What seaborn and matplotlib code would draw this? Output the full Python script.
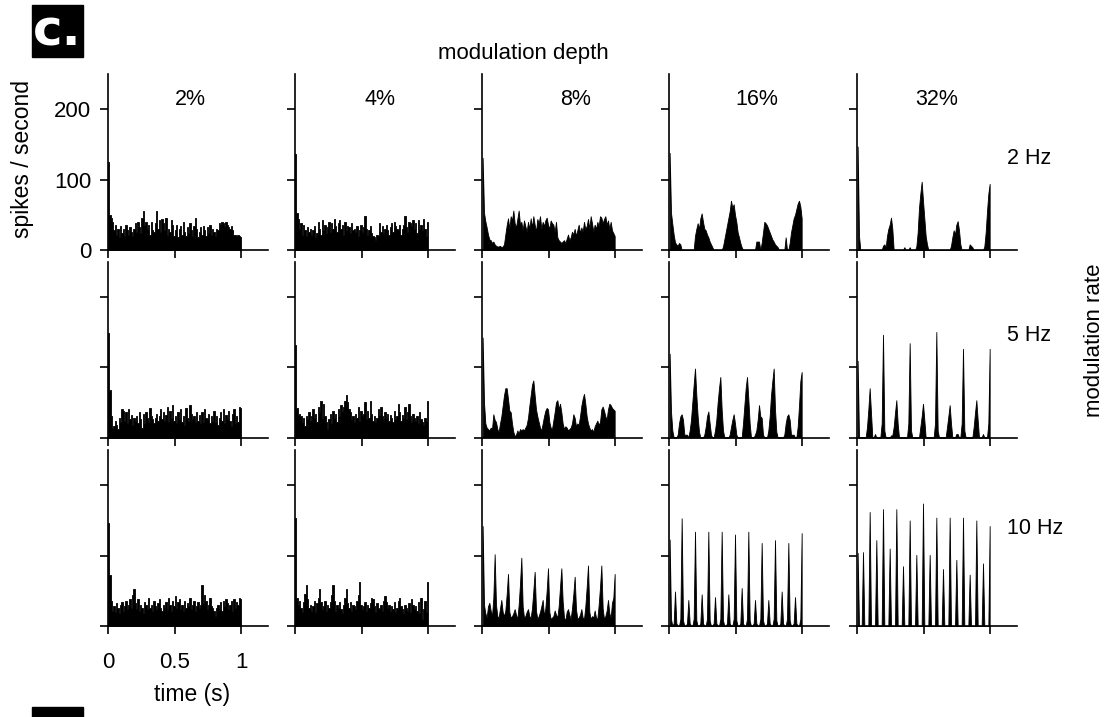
import numpy as np
import pandas as pd
import matplotlib
matplotlib.use("Agg")
import matplotlib.pyplot as plt
import seaborn as sns
from matplotlib.patches import Rectangle

# ---------------- data (spikes / second, 10 ms bins, 0..1 s) ----------------
depths = ["2%", "4%", "8%", "16%", "32%"]
rates = ["2 Hz", "5 Hz", "10 Hz"]
x_ticks = [0, 0.5, 1]
x_ticklabels = ["0", "0.5", "1"]
y_ticks = [0, 100, 200]
y_ticklabels = ["0", "100", "200"]

r2_d2 = [125, 50, 46, 40, 28, 35, 22, 30, 18, 34,
         24, 30, 20, 36, 28, 22, 33, 26, 20, 30,
         38, 26, 40, 32, 24, 45, 56, 35, 40, 30,
         36, 22, 40, 28, 26, 38, 56, 30, 42, 25,
         44, 38, 28, 45, 22, 30, 26, 42, 35, 20,
         28, 36, 18, 30, 34, 22, 40, 26, 20, 32,
         24, 38, 28, 20, 34, 45, 30, 18, 26, 32,
         22, 34, 28, 20, 32, 24, 36, 22, 30, 26,
         20, 30, 28, 38, 36, 40, 38, 34, 40, 36,
         32, 30, 34, 28, 22, 22, 20, 22, 20, 18]
r2_d4 = [137, 52, 44, 30, 38, 22, 36, 28, 20, 32,
         26, 30, 22, 28, 34, 18, 24, 40, 30, 22,
         42, 28, 36, 24, 32, 40, 26, 38, 30, 44,
         34, 26, 38, 42, 30, 36, 22, 40, 28, 34,
         32, 24, 38, 28, 30, 26, 34, 20, 28, 36,
         26, 32, 48, 30, 22, 28, 34, 24, 20, 18,
         14, 22, 20, 38, 26, 34, 24, 30, 36, 28,
         22, 32, 38, 26, 40, 34, 30, 28, 36, 22,
         30, 36, 48, 32, 26, 40, 38, 34, 42, 30,
         38, 24, 42, 30, 36, 28, 44, 30, 20, 40]
r2_d8 = [131, 53, 41, 32, 22, 15, 14, 10, 12, 8,
         6, 5, 5, 6, 4, 5, 8, 22, 35, 45,
         30, 48, 42, 56, 38, 32, 44, 56, 36, 40,
         28, 42, 34, 26, 40, 30, 45, 32, 48, 36,
         26, 44, 38, 48, 30, 40, 34, 42, 46, 36,
         30, 42, 38, 36, 26, 40, 18, 14, 12, 10,
         12, 14, 10, 16, 22, 14, 18, 26, 22, 30,
         20, 28, 36, 24, 32, 26, 40, 30, 34, 44,
         30, 48, 38, 26, 36, 30, 40, 34, 48, 46,
         38, 44, 48, 36, 42, 30, 40, 28, 24, 20]
r2_d16 = [138, 53, 37, 22, 11, 8, 6, 10, 8, 0,
          0, 0, 0, 0, 0, 0, 0, 0, 0, 20,
          30, 38, 30, 45, 52, 40, 30, 28, 22, 18,
          12, 8, 4, 0, 0, 0, 0, 0, 0, 0,
          5, 15, 25, 35, 45, 55, 70, 60, 65, 50,
          40, 25, 18, 10, 4, 0, 0, 0, 0, 0,
          0, 0, 0, 0, 0, 12, 12, 12, 0, 10,
          25, 40, 38, 35, 30, 25, 20, 15, 12, 8,
          6, 4, 0, 0, 0, 0, 0, 18, 0, 0,
          10, 25, 35, 45, 50, 58, 66, 70, 62, 45]
r2_d32 = [147, 20, 0, 0, 0, 0, 0, 0, 0, 0,
          0, 0, 0, 0, 0, 0, 0, 0, 0, 6,
          8, 4, 20, 30, 36, 46, 30, 0, 0, 0,
          0, 0, 0, 0, 0, 4, 0, 0, 0, 4,
          0, 0, 0, 0, 5, 25, 60, 80, 97, 70,
          45, 20, 8, 0, 0, 0, 0, 0, 0, 0,
          0, 0, 0, 0, 0, 0, 0, 0, 0, 0,
          6, 18, 28, 22, 36, 41, 28, 8, 0, 0,
          0, 0, 0, 0, 8, 6, 4, 0, 0, 0,
          0, 0, 0, 0, 0, 5, 25, 55, 80, 94]

r5_d2 = [148, 67, 30, 14, 16, 24, 18, 12, 28, 22,
         40, 38, 24, 36, 20, 40, 26, 32, 18, 28,
         24, 30, 20, 36, 26, 14, 34, 20, 36, 28,
         22, 42, 30, 26, 20, 28, 34, 24, 30, 40,
         26, 36, 24, 32, 44, 22, 38, 28, 46, 24,
         30, 20, 36, 26, 40, 22, 30, 18, 42, 28,
         24, 46, 34, 26, 30, 22, 36, 24, 32, 20,
         36, 22, 40, 28, 26, 34, 20, 30, 24, 38,
         22, 30, 18, 28, 36, 24, 40, 20, 32, 26,
         38, 24, 16, 34, 40, 20, 30, 22, 44, 42]
r5_d4 = [131, 42, 32, 34, 30, 22, 28, 16, 30, 26,
         36, 24, 30, 40, 28, 34, 22, 44, 36, 52,
         28, 48, 30, 22, 12, 26, 34, 20, 38, 28,
         34, 22, 40, 30, 46, 38, 44, 52, 61, 50,
         40, 36, 26, 30, 22, 34, 28, 44, 24, 38,
         30, 34, 50, 26, 38, 28, 52, 34, 24, 30,
         22, 28, 40, 32, 44, 30, 26, 36, 28, 34,
         24, 32, 28, 22, 38, 26, 30, 48, 36, 24,
         32, 28, 44, 26, 36, 48, 30, 22, 34, 28,
         24, 30, 20, 36, 26, 22, 18, 28, 24, 52]
r5_d8 = [142, 50, 20, 14, 12, 10, 14, 12, 33, 25,
         22, 12, 8, 20, 30, 45, 60, 70, 70, 55,
         38, 36, 20, 8, 2, 4, 10, 6, 12, 10,
         12, 10, 14, 18, 28, 45, 60, 75, 81, 60,
         40, 30, 22, 14, 10, 20, 30, 38, 42, 40,
         22, 14, 12, 24, 36, 50, 53, 40, 48, 36,
         20, 12, 16, 14, 10, 12, 14, 20, 33, 28,
         16, 20, 18, 30, 45, 55, 62, 48, 30, 20,
         14, 10, 12, 8, 16, 20, 24, 18, 22, 40,
         44, 38, 30, 26, 40, 48, 46, 42, 40, 38]
r5_d16 = [119, 37, 10, 0, 0, 0, 4, 20, 30, 33,
          25, 4, 4, 4, 0, 10, 25, 50, 75, 98,
          60, 30, 8, 0, 0, 0, 4, 15, 30, 37,
          20, 4, 0, 0, 10, 25, 50, 70, 86, 40,
          10, 0, 0, 0, 0, 4, 15, 25, 33, 20,
          4, 0, 0, 0, 0, 20, 45, 70, 86, 55,
          20, 0, 0, 0, 4, 10, 25, 46, 30, 28,
          4, 0, 0, 0, 10, 30, 60, 80, 98, 40,
          8, 0, 0, 0, 0, 0, 4, 20, 30, 33,
          25, 4, 4, 4, 0, 0, 15, 45, 80, 93]
r5_d32 = [109, 0, 0, 0, 0, 0, 0, 15, 40, 70,
          35, 0, 0, 5, 0, 0, 0, 0, 20, 146,
          10, 0, 0, 0, 0, 3, 3, 15, 35, 53,
          20, 0, 0, 0, 0, 0, 0, 0, 20, 134,
          10, 0, 0, 0, 0, 0, 0, 15, 30, 48,
          25, 0, 0, 0, 0, 0, 0, 0, 20, 150,
          10, 0, 0, 0, 0, 0, 0, 15, 30, 46,
          20, 0, 0, 0, 5, 5, 0, 0, 20, 126,
          10, 0, 0, 0, 0, 0, 0, 15, 35, 53,
          25, 0, 0, 0, 5, 0, 0, 0, 20, 126]

r10_d2 = [146, 72, 35, 22, 28, 20, 32, 26, 18, 30,
          34, 22, 28, 36, 24, 30, 38, 26, 44, 53,
          32, 24, 38, 22, 30, 26, 18, 34, 30, 24,
          40, 26, 30, 22, 36, 28, 24, 32, 38, 26,
          22, 30, 26, 34, 24, 40, 30, 22, 36, 28,
          42, 26, 34, 38, 24, 30, 22, 36, 26, 32,
          28, 40, 24, 30, 36, 22, 28, 34, 26, 30,
          58, 32, 44, 36, 24, 30, 40, 28, 26, 22,
          14, 26, 30, 24, 34, 22, 36, 28, 38, 32,
          24, 30, 36, 22, 38, 26, 34, 30, 40, 38]
r10_d4 = [153, 40, 30, 36, 26, 20, 34, 45, 58, 38,
          26, 30, 22, 28, 36, 20, 32, 40, 53, 34,
          24, 28, 36, 22, 30, 26, 34, 44, 58, 36,
          22, 30, 26, 34, 24, 18, 30, 40, 53, 32,
          26, 34, 22, 30, 28, 24, 36, 44, 62, 30,
          24, 28, 34, 22, 30, 26, 32, 40, 38, 28,
          20, 32, 26, 24, 30, 22, 36, 42, 34, 26,
          30, 22, 28, 24, 34, 20, 26, 36, 40, 28,
          24, 18, 30, 26, 22, 32, 20, 38, 30, 24,
          28, 22, 34, 18, 40, 10, 24, 36, 20, 62]
r10_d8 = [142, 30, 18, 12, 28, 33, 22, 14, 40, 102,
          30, 14, 12, 25, 37, 20, 14, 22, 45, 74,
          20, 12, 14, 18, 24, 16, 10, 30, 60, 97,
          28, 12, 14, 20, 24, 14, 12, 25, 50, 77,
          22, 10, 14, 20, 28, 37, 14, 25, 50, 82,
          20, 10, 12, 14, 22, 16, 12, 28, 55, 82,
          35, 12, 8, 20, 24, 16, 10, 25, 45, 70,
          24, 10, 12, 16, 24, 12, 10, 28, 55, 86,
          20, 10, 14, 12, 22, 12, 10, 30, 55, 86,
          25, 10, 14, 22, 37, 18, 12, 33, 40, 74]
r10_d16 = [123, 10, 0, 4, 49, 4, 0, 0, 10, 153,
           8, 0, 0, 4, 37, 4, 0, 0, 10, 134,
           8, 0, 0, 4, 45, 4, 0, 0, 10, 134,
           8, 0, 0, 4, 41, 4, 0, 0, 10, 134,
           8, 0, 0, 4, 45, 4, 0, 0, 10, 130,
           8, 0, 0, 4, 54, 4, 0, 0, 10, 134,
           8, 0, 0, 4, 37, 4, 0, 0, 10, 118,
           8, 0, 0, 4, 37, 4, 0, 0, 10, 122,
           8, 0, 0, 4, 49, 4, 0, 0, 10, 118,
           8, 0, 0, 4, 41, 4, 0, 0, 10, 132]
r10_d32 = [104, 0, 0, 0, 105, 0, 0, 0, 0, 162,
           0, 0, 0, 0, 122, 0, 0, 0, 0, 166,
           0, 0, 0, 0, 110, 0, 0, 0, 0, 166,
           0, 0, 0, 0, 85, 0, 0, 0, 0, 150,
           0, 0, 0, 0, 101, 0, 0, 0, 0, 174,
           0, 0, 0, 0, 101, 0, 0, 0, 0, 154,
           0, 0, 0, 0, 81, 0, 0, 0, 0, 154,
           0, 0, 0, 0, 94, 0, 0, 0, 0, 154,
           0, 0, 0, 0, 73, 0, 0, 0, 0, 150,
           0, 0, 0, 0, 89, 0, 0, 0, 0, 142]

panels = [[r2_d2, r2_d4, r2_d8, r2_d16, r2_d32],
          [r5_d2, r5_d4, r5_d8, r5_d16, r5_d32],
          [r10_d2, r10_d4, r10_d8, r10_d16, r10_d32]]

# ---------------- figure ----------------
sns.set_theme(style="ticks")
plt.rcParams["font.family"] = ["Liberation Sans", "DejaVu Sans"]

W, H = 1105, 717
fig = plt.figure(figsize=(W / 100, H / 100), dpi=100)

col_x0 = [108, 295, 482, 669, 857]      # pixel of t = 0
row_y0 = [250, 437.5, 626]              # pixel of rate = 0
ax_w_px, ax_h_px = 160, 176

n_bins = 100
centers = (np.arange(n_bins) + 0.5) / n_bins

label_x = [0.62, 0.64, 0.70, 0.66, 0.60]

for r in range(3):
    for c in range(5):
        left = col_x0[c] / W
        bottom = 1 - row_y0[r] / H
        ax = fig.add_axes([left, bottom, ax_w_px / W, ax_h_px / H])
        df = pd.DataFrame({"t": centers, "rate": np.asarray(panels[r][c], float)})
        elem = "step" if c <= 1 else "poly"
        sns.histplot(data=df, x="t", weights="rate", bins=n_bins, binrange=(0, 1),
                     element=elem, fill=True, color="black", alpha=1,
                     linewidth=0.6, edgecolor="black", ax=ax)
        ax.set_xlim(0, 1.2)
        ax.set_ylim(0, 250)
        ax.set_xlabel("")
        ax.set_ylabel("")
        for s in ["top", "right"]:
            ax.spines[s].set_visible(False)
        for s in ["left", "bottom"]:
            ax.spines[s].set_linewidth(1.2)
            ax.spines[s].set_color("black")
        ax.set_xticks(x_ticks)
        ax.set_yticks(y_ticks)
        ax.tick_params(axis="both", direction="out", length=6, width=1.2,
                       color="black", labelsize=16, labelcolor="black")
        ax.tick_params(axis="x", pad=13)
        ax.tick_params(axis="y", pad=6)
        if r == 0 and c == 0:
            ax.set_yticklabels(y_ticklabels)
        else:
            ax.set_yticklabels([])
        if r == 2 and c == 0:
            ax.set_xticklabels(x_ticklabels)
        else:
            ax.set_xticklabels([])
        if r == 0:
            ax.text(label_x[c], 214, depths[c], ha="center", va="center",
                    fontsize=15.5, color="black")
        ax.set_facecolor("none")

# column / row headers
fig.text(523 / W, 1 - 53 / H, "modulation depth", ha="center", va="center",
         fontsize=16, color="black")
rate_y = [158, 335, 529]
for r in range(3):
    fig.text(1007 / W, 1 - rate_y[r] / H, rates[r], ha="left", va="center",
             fontsize=15.5, color="black")
fig.text(1094 / W, 1 - 340 / H, "modulation rate", ha="center", va="center",
         rotation=90, fontsize=16, color="black")
fig.text(23 / W, 1 - 159 / H, "spikes / second", ha="center", va="center",
         rotation=90, fontsize=16.5, color="black")
fig.text(192 / W, 1 - 694 / H, "time (s)", ha="center", va="center",
         fontsize=16.5, color="black")

# panel label boxes
fig.patches.append(Rectangle((32 / W, 1 - 57 / H), 51 / W, 52 / H,
                             transform=fig.transFigure, color="black", zorder=5))
fig.text(57.5 / W, 1 - 32 / H, "c.", ha="center", va="center", color="white",
         fontsize=36, fontweight="bold", family=["DejaVu Sans"],
         zorder=6)
fig.patches.append(Rectangle((32 / W, 0), 51 / W, 10 / H,
                             transform=fig.transFigure, color="black", zorder=5))

fig.savefig("out.png", dpi=100, facecolor="white")
